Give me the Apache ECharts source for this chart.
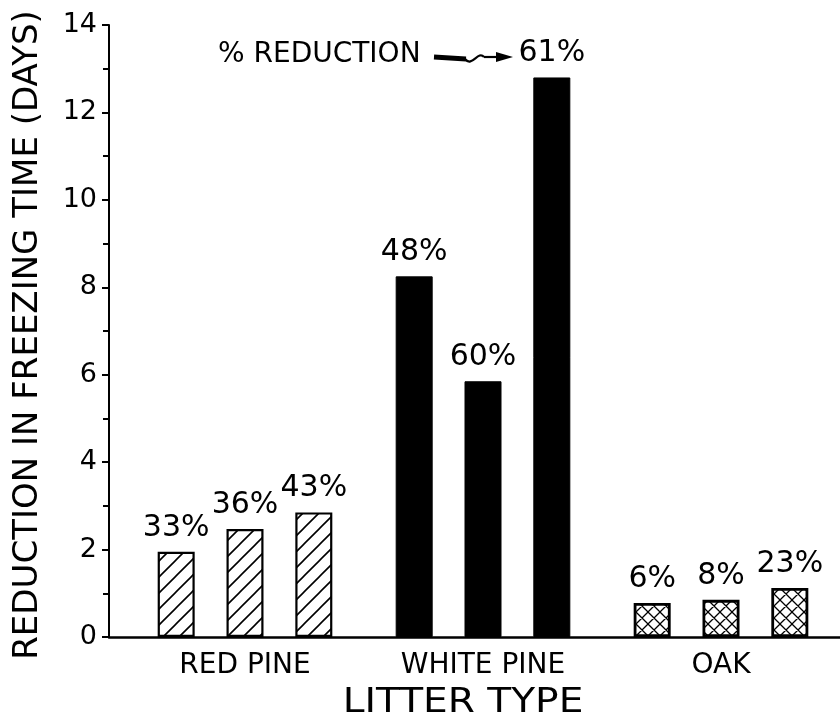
<!DOCTYPE html>
<html>
<head>
<meta charset="utf-8">
<script src="https://cdn.jsdelivr.net/npm/echarts@6/dist/echarts.min.js"></script>
<style>
  html, body { margin: 0; padding: 0; background: #ffffff; }
  #chart { width: 840px; height: 724px; }
</style>
</head>
<body>
<div id="chart"></div>
<script>
// ---- data ----
const categories = ['RED PINE', 'WHITE PINE', 'OAK'];
const firstBar  = [1.95, 8.25, 0.78];
const secondBar = [2.47, 5.85, 0.85];
const thirdBar  = [2.85, 12.8, 1.12];
const firstPct  = ['33%', '48%', '6%'];
const secondPct = ['36%', '60%', '8%'];
const thirdPct  = ['43%', '61%', '23%'];
const yMin = 0, yMax = 14, yStep = 2;
const yTitle = 'REDUCTION IN FREEZING TIME (DAYS)';
const xTitle = 'LITTER TYPE';
const noteText = '% REDUCTION';

// ---- patterns ----
function hatchPattern() {
  const c = document.createElement('canvas');
  c.width = 16; c.height = 16;
  const g = c.getContext('2d');
  g.fillStyle = '#fff'; g.fillRect(0, 0, 16, 16);
  g.strokeStyle = '#000'; g.lineWidth = 1.6;
  g.beginPath();
  g.moveTo(-2, 18); g.lineTo(18, -2);
  g.moveTo(-2, 2); g.lineTo(2, -2);
  g.moveTo(14, 18); g.lineTo(18, 14);
  g.stroke();
  return { image: c, repeat: 'repeat' };
}
function crossPattern() {
  const c = document.createElement('canvas');
  c.width = 12; c.height = 12;
  const g = c.getContext('2d');
  g.fillStyle = '#fff'; g.fillRect(0, 0, 12, 12);
  g.strokeStyle = '#000'; g.lineWidth = 1.3;
  g.beginPath();
  g.moveTo(-2, 14); g.lineTo(14, -2);
  g.moveTo(-2, 2); g.lineTo(2, -2);
  g.moveTo(10, 14); g.lineTo(14, 10);
  g.moveTo(-2, -2); g.lineTo(14, 14);
  g.moveTo(-2, 10); g.lineTo(2, 14);
  g.moveTo(10, -2); g.lineTo(14, 2);
  g.stroke();
  return { image: c, repeat: 'repeat' };
}
const groupStyles = [
  { color: hatchPattern(), borderColor: '#000', borderWidth: 2.2 },
  { color: '#000', borderColor: '#000', borderWidth: 1 },
  { color: crossPattern(), borderColor: '#000', borderWidth: 2.8 }
];

const FONT = 'DejaVu Sans';
function makeSeries(values, pcts) {
  return {
    type: 'bar',
    xAxisIndex: 1, yAxisIndex: 1,
    barWidth: 37, barGap: '86%',
    data: values.map((v, i) => ({
      value: v,
      itemStyle: groupStyles[i],
      label: { formatter: pcts[i] }
    })),
    label: {
      show: true, position: 'top', distance: 9,
      fontFamily: FONT, fontSize: 30, color: '#000'
    },
    emphasis: { disabled: true },
    animation: false
  };
}

const chart = echarts.init(document.getElementById('chart'), null, { renderer: 'canvas' });
chart.setOption({
  backgroundColor: '#ffffff',
  animation: false,
  grid: [
    { left: 109, right: 0, top: 25, bottom: 87 },
    { left: 126, width: 719, top: 25, bottom: 87 }
  ],
  xAxis: [
    {
      gridIndex: 0, type: 'value', min: 0, max: 1,
      axisLine: { show: true, lineStyle: { color: '#000', width: 2.5 } },
      axisTick: { show: false }, axisLabel: { show: false }, splitLine: { show: false }
    },
    {
      gridIndex: 1, type: 'category', data: categories,
      axisLine: { show: false }, axisTick: { show: false },
      axisLabel: { fontFamily: FONT, fontSize: 28, color: '#000', margin: 15 }
    }
  ],
  yAxis: [
    {
      gridIndex: 0, type: 'value', min: yMin, max: yMax, interval: yStep,
      axisLine: { show: true, lineStyle: { color: '#000', width: 2 } },
      axisTick: { show: true, length: 7, lineStyle: { color: '#000', width: 2 } },
      minorTick: { show: true, splitNumber: 2, length: 6, lineStyle: { color: '#000', width: 2 } },
      axisLabel: { fontFamily: FONT, fontSize: 27, color: '#000', margin: 12 },
      splitLine: { show: false }
    },
    {
      gridIndex: 1, type: 'value', min: yMin, max: yMax, interval: yStep, show: false
    }
  ],
  series: [
    makeSeries(firstBar, firstPct),
    makeSeries(secondBar, secondPct),
    makeSeries(thirdBar, thirdPct)
  ],
  graphic: [
    {
      type: 'text', x: 28, y: 335, rotation: Math.PI / 2,
      style: { text: yTitle, fontFamily: FONT, fontSize: 34, fill: '#000',
               align: 'center', verticalAlign: 'middle' }
    },
    {
      type: 'text', x: 463, y: 703, scaleX: 1.15,
      style: { text: xTitle, fontFamily: FONT, fontSize: 34, fill: '#000',
               align: 'center', verticalAlign: 'middle' }
    },
    {
      type: 'text', x: 218, y: 55,
      style: { text: noteText, fontFamily: FONT, fontSize: 28, fill: '#000',
               align: 'left', verticalAlign: 'middle' }
    },
    {
      type: 'polyline',
      shape: { points: [[434, 57], [466, 59]] },
      style: { stroke: '#000', lineWidth: 5, fill: null }
    },
    {
      type: 'bezierCurve',
      shape: { x1: 465, y1: 59, cpx1: 472, cpy1: 68, cpx2: 478, cpy2: 50, x2: 484, y2: 57 },
      style: { stroke: '#000', lineWidth: 2.2, fill: null }
    },
    {
      type: 'line',
      shape: { x1: 484, y1: 57, x2: 500, y2: 57 },
      style: { stroke: '#000', lineWidth: 2.2 }
    },
    {
      type: 'polygon',
      shape: { points: [[496, 52], [513, 57], [496, 62]] },
      style: { fill: '#000' }
    }
  ]
});
</script>
</body>
</html>
